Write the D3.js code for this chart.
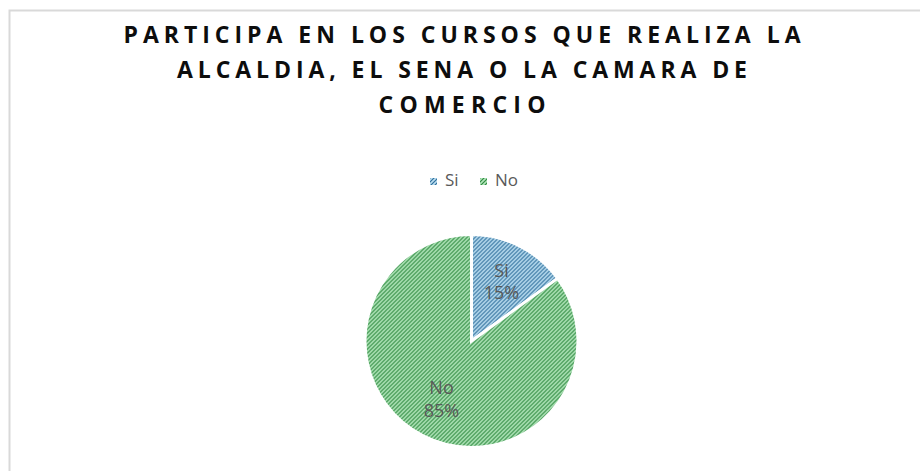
<!DOCTYPE html>
<html>
<head>
<meta charset="utf-8">
<script src="https://cdn.jsdelivr.net/npm/d3@7"></script>
<style>
  body { margin: 0; background: #fff; }
  svg { display: block; }
</style>
</head>
<body>
<script>
// data
const categories = ["Si", "No"];
const values = [15, 85];
const titleLines = ["PARTICIPA EN LOS CURSOS QUE REALIZA LA", "ALCALDIA, EL SENA O LA CAMARA DE", "COMERCIO"];

const W = 920, H = 471;
const svg = d3.select("body").append("svg")
    .attr("width", W)
    .attr("height", H);

// pattern fills (wide upward diagonal like office charts)
const colors = {
  Si: { bg: "#bbdef1", fg: "#2f6f9c" },
  No: { bg: "#b2e6bb", fg: "#2f8a40" }
};
const defs = svg.append("defs");
categories.forEach(c => {
  let p = defs.append("pattern")
      .attr("id", "pat-" + c)
      .attr("patternUnits", "userSpaceOnUse")
      .attr("width", 4).attr("height", 4);
  p.append("rect").attr("width", 4).attr("height", 4).attr("fill", colors[c].bg);
  p.append("path")
      .attr("d", "M-1,1 l2,-2 M0,4 l4,-4 M3,5 l2,-2")
      .attr("stroke", colors[c].fg)
      .attr("stroke-width", 1.2);
});

// chart border
svg.append("rect")
    .attr("x", 9.5).attr("y", 10.5)
    .attr("width", W + 20).attr("height", H + 20)
    .attr("fill", "none")
    .attr("stroke", "#d9d9d9")
    .attr("stroke-width", 2);

// title
const titleWidths = [677, 570, 167];
svg.append("g").selectAll("text")
    .data(titleLines)
    .enter().append("text")
    .attr("x", 462)
    .attr("y", (d, i) => 43 + i * 35)
    .attr("text-anchor", "middle")
    .attr("textLength", (d, i) => titleWidths[i])
    .attr("lengthAdjust", "spacing")
    .style("font-family", "'Open Sans', 'Noto Sans', sans-serif")
    .style("font-weight", "bold")
    .style("font-size", "23px")
    .style("fill", "#0d0d0d")
    .text(d => d);

// legend
const legend = svg.append("g").selectAll("g")
    .data(categories)
    .enter().append("g")
    .attr("transform", (d, i) => `translate(${430 + i * 50},178)`);
legend.append("rect")
    .attr("width", 7).attr("height", 7)
    .attr("fill", d => "url(#pat-" + d + ")");
legend.append("text")
    .attr("x", 15).attr("y", 8)
    .style("font-family", "'Open Sans', Lato, sans-serif")
    .style("font-size", "17px")
    .style("fill", "#595959")
    .text(d => d);

// pie
const cx = 471.5, cy = 341, r = 106.5;
const pie = d3.pie().sort(null).value(d => d.v);
const arcs = pie(categories.map((c, i) => ({ c: c, v: values[i] })));
const arc = d3.arc().innerRadius(0).outerRadius(r);
const total = d3.sum(values);

const g = svg.append("g").attr("transform", `translate(${cx},${cy})`);
g.selectAll("path")
    .data(arcs)
    .enter().append("path")
    .attr("d", arc)
    .attr("fill", d => "url(#pat-" + d.data.c + ")")
    .attr("stroke", "#fff")
    .attr("stroke-width", 3)
    .attr("stroke-linejoin", "miter");

// data labels
const labelArc = d3.arc().innerRadius(r * 0.62).outerRadius(r * 0.62);
const lab = g.selectAll("text.lbl")
    .data(arcs)
    .enter().append("text")
    .attr("class", "lbl")
    .attr("transform", d => {
      let p = labelArc.centroid(d);
      return `translate(${p[0]},${p[1]})`;
    })
    .attr("text-anchor", "middle")
    .style("font-family", "'Open Sans', Lato, sans-serif")
    .style("font-size", "18px")
    .style("fill", "#595959");
lab.append("tspan").attr("x", 0).attr("dy", "-0.3em").text(d => d.data.c);
lab.append("tspan").attr("x", 0).attr("dy", "1.25em")
    .text(d => Math.round(d.data.v / total * 100) + "%");
</script>
</body>
</html>
